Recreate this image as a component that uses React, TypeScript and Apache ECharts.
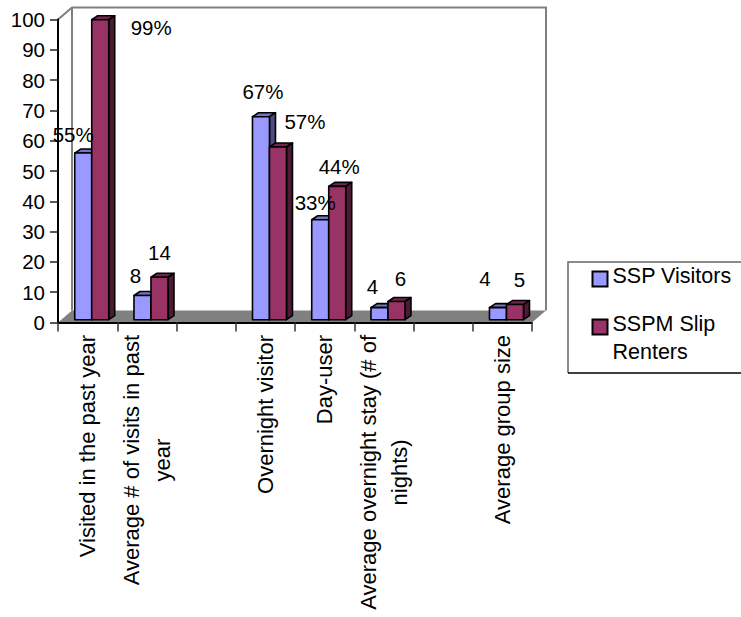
import React, { useEffect, useRef } from "react";
import * as echarts from "echarts";

// Survey categories; the empty entries are spacer slots on the axis.
const categories = [
  "Visited in the past year",
  "Average # of visits in past\nyear",
  "",
  "Overnight visitor",
  "Day-user",
  "Average overnight stay (# of\nnights)",
  "",
  "Average group size",
];
const visitorValues = [55, 8, null, 67, 33, 4, null, 4];
const renterValues = [99, 14, null, 57, 44, 6, null, 5];
const visitorLabels = ["55%", "8", "", "67%", "33%", "4", "", "4"];
const renterLabels = ["99%", "14", "", "57%", "44%", "6", "", "5"];
const yTicks = { min: 0, max: 100, interval: 10 };

// Label nudges from the top centre of each bar.
const visitorLabelShift = [[-10, -19], [-7, -19.5], null, [2, -25], [-5, -17], [-7, -21], null, [-13, -29]];
const renterLabelShift = [[51, 8], [0, -25], null, [27, -25], [2, -20], [4, -23], null, [4.5, -25.5]];

const FONT = "Liberation Sans";
const FONT_SIZE = 20.5;
const CATEGORY_FONT_SIZE = 22;
const LEGEND_FONT_SIZE = 21.5;
const GRID = { left: 58, right: 532, top: 19.5, bottom: 322.5 };
const WALL = { dx: 14, dy: -12 };
const BAR = { width: 17, lift: 2.8, sideX: 6, sideY: -4 };

function barSeries(
  name: string,
  values: (number | null)[],
  labels: string[],
  shifts: (number[] | null)[],
  offset: number,
  front: string,
  top: string,
  side: string,
) {
  return {
    type: "custom",
    name,
    itemStyle: { color: front },
    data: values.map((v, i) => [i, v]).filter((d) => d[1] !== null),
    encode: { x: 0, y: 1 },
    renderItem: (_: unknown, api: any) => {
      const idx = api.value(0);
      const p = api.coord([idx, api.value(1)]);
      const base = api.coord([idx, 0]);
      const x0 = p[0] + offset;
      const x1 = x0 + BAR.width;
      const yTop = p[1] - BAR.lift;
      const yBot = base[1] - BAR.lift;
      const stroke = { stroke: "#000", lineWidth: 1.6, lineJoin: "round" };
      const shift = shifts[idx] || [0, 0];
      return {
        type: "group",
        children: [
          {
            type: "polygon",
            shape: { points: [[x0, yTop], [x0 + BAR.sideX, yTop + BAR.sideY], [x1 + BAR.sideX, yTop + BAR.sideY], [x1, yTop]] },
            style: { fill: top, ...stroke },
          },
          {
            type: "polygon",
            shape: { points: [[x1, yTop], [x1 + BAR.sideX, yTop + BAR.sideY], [x1 + BAR.sideX, yBot + BAR.sideY], [x1, yBot]] },
            style: { fill: side, ...stroke },
          },
          {
            type: "rect",
            shape: { x: x0, y: yTop, width: BAR.width, height: yBot - yTop },
            style: { fill: front, ...stroke },
          },
          {
            type: "text",
            z2: 100,
            style: {
              text: labels[idx],
              x: x0 + BAR.width / 2 + shift[0],
              y: yTop + shift[1],
              align: "center",
              verticalAlign: "middle",
              fill: "#000",
              font: `${FONT_SIZE}px "${FONT}"`,
            },
          },
        ],
      };
    },
  };
}

export default function App() {
  const ref = useRef<HTMLDivElement>(null);

  useEffect(() => {
    const chart = echarts.init(ref.current!, null, { renderer: "svg" });
    const { left, right, top, bottom } = GRID;
    const bx = left + WALL.dx;
    const rx = right + WALL.dx;
    const wallTop = top + WALL.dy;
    const floorBack = bottom + WALL.dy;
    const wallLine = { stroke: "#808080", lineWidth: 2, fill: "none" };
    // Legend lines sit slightly above the swatch centre, hence the bottom padding.
    const legendText = {
      fontFamily: FONT,
      fontSize: LEGEND_FONT_SIZE,
      color: "#000",
      rich: {
        t: {
          fontFamily: FONT,
          fontSize: LEGEND_FONT_SIZE,
          color: "#000",
          lineHeight: 28,
          padding: [0, 0, 7, 0],
        },
      },
    };
    const legendLines = (name: string) =>
      name
        .replace("Slip ", "Slip\n")
        .split("\n")
        .map((s) => `{t|${s}}`)
        .join("\n");

    chart.setOption({
      animation: false,
      backgroundColor: "#fff",
      grid: {
        left,
        top,
        width: right - left,
        height: bottom - top,
        containLabel: false,
        outerBoundsMode: "none",
      },
      xAxis: {
        type: "category",
        data: categories,
        axisLine: { lineStyle: { color: "#000", width: 2 } },
        axisTick: { show: true, alignWithLabel: false, interval: 0, length: 9, lineStyle: { color: "#333", width: 1.5 } },
        axisLabel: {
          interval: 0,
          rotate: 90,
          margin: 12.5,
          align: "right",
          verticalAlign: "middle",
          formatter: (v: string) =>
            v
              .split("\n")
              .map((s) => `{c|${s}}`)
              .join("\n"),
          rich: {
            c: { align: "center", fontFamily: FONT, fontSize: CATEGORY_FONT_SIZE, lineHeight: 31, color: "#000" },
          },
        },
      },
      yAxis: {
        type: "value",
        ...yTicks,
        splitLine: { show: false },
        axisLine: { show: true, lineStyle: { color: "#000", width: 2 } },
        axisTick: { show: true, length: 8, lineStyle: { color: "#222", width: 1.5 } },
        axisLabel: { margin: 13, color: "#000", fontFamily: FONT, fontSize: FONT_SIZE },
      },
      legend: [
        {
          left: 591.5,
          top: 264.5,
          padding: 0,
          itemWidth: 15,
          itemHeight: 15,
          selectedMode: false,
          data: [
            {
              name: "SSP Visitors",
              icon: "rect",
              itemStyle: { color: "#9999ff", borderColor: "#000", borderWidth: 2 },
            },
          ],
          formatter: legendLines,
          textStyle: legendText,
        },
        {
          left: 591.5,
          top: 284.5,
          padding: 0,
          itemWidth: 15,
          itemHeight: 15,
          selectedMode: false,
          data: [
            {
              name: "SSPM Slip Renters",
              icon: "rect",
              itemStyle: { color: "#993366", borderColor: "#000", borderWidth: 2 },
            },
          ],
          // Blank leading line keeps the swatch level with the first visible line.
          formatter: (name: string) => "{t| }\n" + legendLines(name),
          textStyle: legendText,
        },
      ],
      graphic: [
        {
          type: "polygon",
          z: -1,
          shape: { points: [[left, bottom], [bx, floorBack], [rx, floorBack], [right, bottom]] },
          style: { fill: "#808080" },
        },
        {
          type: "polyline",
          z: -1,
          shape: { points: [[left, top], [bx, wallTop], [rx, wallTop], [rx, floorBack]] },
          style: wallLine,
        },
        {
          type: "line",
          z: -1,
          shape: { x1: bx, y1: wallTop, x2: bx, y2: floorBack },
          style: wallLine,
        },
        {
          type: "polyline",
          z: -1,
          shape: { points: [[741, 262], [568, 262], [568, 373]] },
          style: { stroke: "#666", lineWidth: 1.5, fill: "none" },
        },
        {
          type: "line",
          z: -1,
          shape: { x1: 568, y1: 373, x2: 741, y2: 373 },
          style: { stroke: "#000", lineWidth: 1.5 },
        },
      ],
      series: [
        barSeries("SSP Visitors", visitorValues, visitorLabels, visitorLabelShift, -12.9, "#9999ff", "#7373bf", "#4d4d80"),
        barSeries("SSPM Slip Renters", renterValues, renterLabels, renterLabelShift, 4.1, "#993366", "#73264d", "#4d1a33"),
      ],
    });
    return () => chart.dispose();
  }, []);

  return <div ref={ref} style={{ position: "absolute", left: 0, top: 0, width: 741, height: 617 }} />;
}
